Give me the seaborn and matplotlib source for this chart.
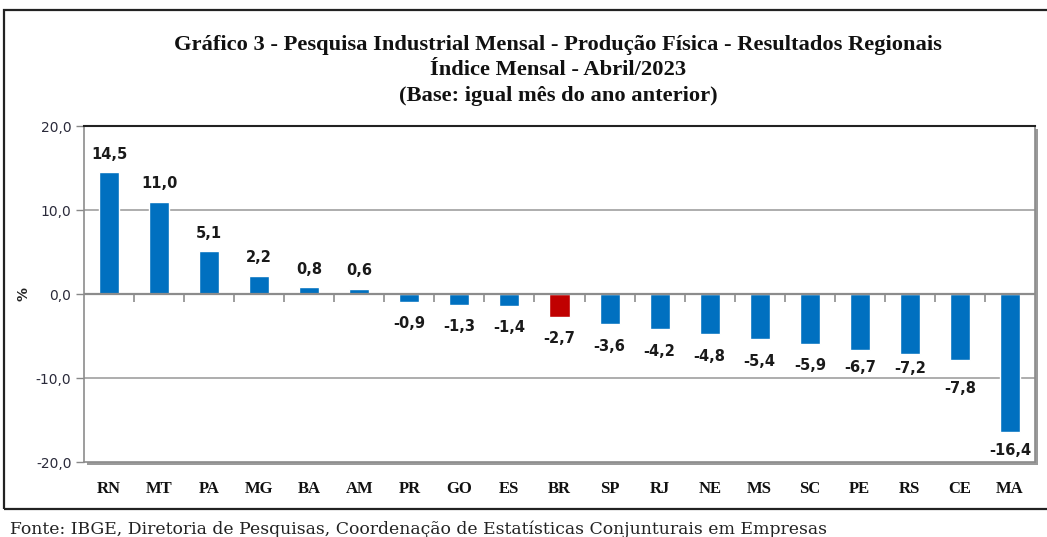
import matplotlib
matplotlib.use("Agg")
import matplotlib.pyplot as plt
import seaborn as sns
import pandas as pd
from matplotlib.patches import Rectangle

categories = ["RN", "MT", "PA", "MG", "BA", "AM", "PR", "GO", "ES", "BR",
              "SP", "RJ", "NE", "MS", "SC", "PE", "RS", "CE", "MA"]
values = [14.5, 11.0, 5.1, 2.2, 0.8, 0.6, -0.9, -1.3, -1.4, -2.7,
          -3.6, -4.2, -4.8, -5.4, -5.9, -6.7, -7.2, -7.8, -16.4]
highlight = "BR"
yticks = [-20, -10, 0, 10, 20]

title_lines = ["Gráfico 3 - Pesquisa Industrial Mensal - Produção Física - Resultados Regionais",
               "Índice Mensal - Abril/2023",
               "(Base: igual mês do ano anterior)"]
source = "Fonte: IBGE, Diretoria de Pesquisas, Coordenação de Estatísticas Conjunturais em Empresas"

BLUE = "#0070C0"
RED = "#C00000"

# label distance (pixels, from bar end to label centre); a few labels were hand-placed
LABEL_GAP_POS = 18
LABEL_GAP_NEG = 22
LABEL_GAP_SPECIAL = {"PE": 17, "RS": 14.5, "CE": 29, "MA": 19}

sns.set_theme(style="white")
plt.rcParams["font.family"] = ["DejaVu Sans"]

W, H = 1047, 537
fig = plt.figure(figsize=(W / 100, H / 100), dpi=100)
fig.patch.set_facecolor("white")
PT = 72 / 100  # points per pixel

# outer frame
fig.patches.append(Rectangle((4 / W, 1 - 509 / H), 1.2, (509 - 10) / H,
                             transform=fig.transFigure, fill=False,
                             edgecolor="#222222", linewidth=1.6, zorder=-2))

ax_l, ax_r, ax_t, ax_b = 84, 1035, 126, 462
# shadow
fig.patches.append(Rectangle(((ax_l + 3) / W, 1 - (ax_b + 3) / H),
                             (ax_r - ax_l) / W, (ax_b - ax_t) / H,
                             transform=fig.transFigure, facecolor="#9a9a9a",
                             edgecolor="none", zorder=-1))
ax = fig.add_axes([ax_l / W, 1 - ax_b / H, (ax_r - ax_l) / W, (ax_b - ax_t) / H])
ax.set_zorder(2)
ax.set_facecolor("white")

df = pd.DataFrame({"cat": categories, "val": values})
palette = {c: (RED if c == highlight else BLUE) for c in categories}
sns.barplot(data=df, x="cat", y="val", hue="cat", palette=palette, legend=False,
            width=0.4, saturation=1, ax=ax, zorder=3)

ax.set_xlim(-0.5, len(categories) - 0.5)
ax.set_ylim(-20, 20)
ax.set_yticks(yticks)
ax.set_yticklabels([f"{v:.1f}".replace(".", ",") for v in yticks],
                   fontsize=10, color="#2a2a3a")
ax.tick_params(axis="y", which="major", direction="out", length=6, width=1,
               color="#888888", pad=3, left=True)
for y in yticks:
    if y not in (20, -20, 0):
        ax.axhline(y, color="#a0a0a0", linewidth=1.2, zorder=1)
ax.axhline(0, color="#8c8c8c", linewidth=1.6, zorder=4)
# ticks on zero line at category boundaries
bounds = [i + 0.5 for i in range(len(categories) - 1)]
ax.plot(bounds, [0] * len(bounds), linestyle="none", marker=3, markersize=6,
        markeredgewidth=1.2, color="#8c8c8c", zorder=4, clip_on=False)

ax.set_xlabel("")
ax.set_ylabel("%", fontsize=10, fontweight="bold", color="#222222", labelpad=4)
ax.set_xticks(range(len(categories)))
ax.set_xticklabels(categories, fontsize=12, fontweight="bold",
                   family="Liberation Serif", color="#111111")
ax.tick_params(axis="x", length=0, pad=14)

ax.spines["top"].set_color("#222222")
ax.spines["top"].set_linewidth(1.5)
for side in ["left", "right", "bottom"]:
    ax.spines[side].set_color("#8c8c8c")
    ax.spines[side].set_linewidth(1.2)

for i, (c, v) in enumerate(zip(categories, values)):
    txt = f"{v:.1f}".replace(".", ",")
    if v >= 0:
        gap = LABEL_GAP_POS
    else:
        gap = -LABEL_GAP_SPECIAL.get(c, LABEL_GAP_NEG)
    ax.annotate(txt, (i, v), xytext=(0, gap * PT), textcoords="offset points",
                ha="center", va="center", fontsize=10.5, fontweight="bold",
                color="#1a1a1a", zorder=5)

ys = [45, 70, 96]
for line, y in zip(title_lines, ys):
    fig.text(558 / W, 1 - y / H, line, ha="center", va="center",
             fontsize=16.2, fontweight="bold", family="Liberation Serif",
             color="#111111")

fig.text(10 / W, 1 - 529 / H, source, ha="left", va="center", fontsize=12.4,
         family="DejaVu Serif", color="#222222")

fig.savefig("out.png", dpi=100, facecolor="white")
